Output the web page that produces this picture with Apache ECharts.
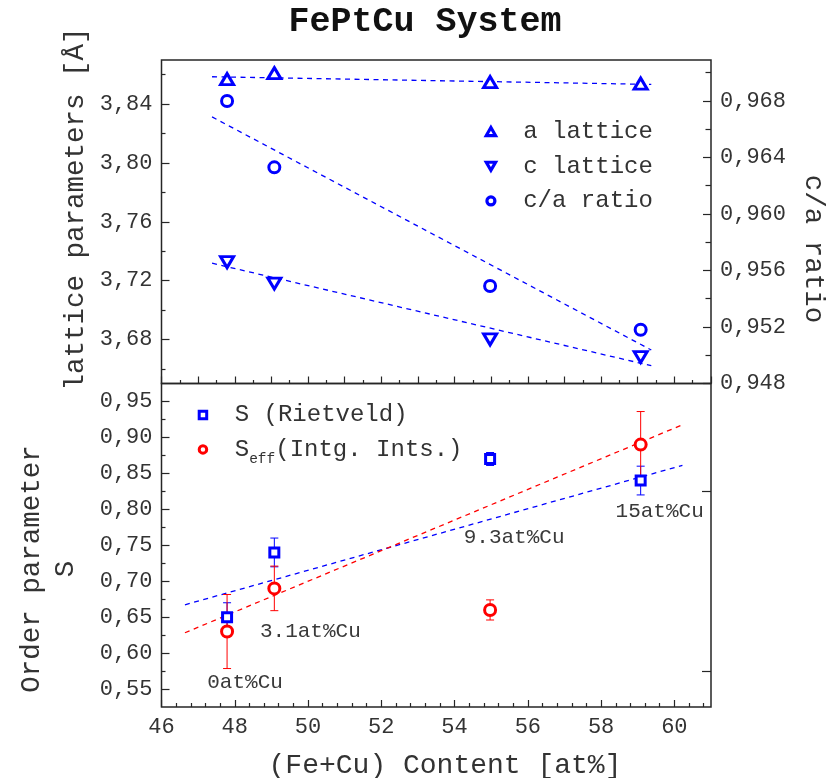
<!DOCTYPE html>
<html>
<head>
<meta charset="utf-8">
<script src="https://cdn.jsdelivr.net/npm/echarts@6/dist/echarts.min.js"></script>
<style>
  html, body { margin: 0; padding: 0; background: #fff; }
  #chart { width: 831px; height: 778px; }
</style>
</head>
<body>
<div id="chart"></div>
<script>
// Sample compositions: (Fe+Cu) content in at% and Cu content labels
const content = [47.79, 49.08, 54.97, 59.08];
const cuLabels = ['0at%Cu', '3.1at%Cu', '9.3at%Cu', '15at%Cu'];

// Lattice parameters [Å] and c/a ratio
const aLattice = [3.857, 3.861, 3.855, 3.854];
const cLattice = [3.7325, 3.718, 3.680, 3.668];
const caRatio = [0.968, 0.9633, 0.9549, 0.9518];

// Linear fit lines (start / end)
const fitXTop = [47.38, 59.37];
const aFit = [3.8586, 3.8534];
const cFit = [3.7318, 3.6621];
const caFit = [0.96687, 0.95037];

// Order parameter S with error bars
const sRietveld = [0.65, 0.74, 0.87, 0.84];
const sRietveldErr = [0.02, 0.02, 0.009, 0.02];
const sEff = [0.63, 0.69, 0.66, 0.89];
const sEffErr = [0.0515, 0.031, 0.014, 0.046];
const fitXBottom = [46.64, 60.22];
const sFit = [0.6672, 0.8611];
const sEffFit = [0.6283, 0.9176];

// Tick values
const xTicks = [46, 48, 50, 52, 54, 56, 58, 60];
const latticeTicks = [3.68, 3.72, 3.76, 3.80, 3.84];
const latticeMinor = [3.66, 3.70, 3.74, 3.78, 3.82, 3.86];
const ratioTicks = [0.948, 0.952, 0.956, 0.960, 0.964, 0.968];
const ratioMinor = [0.950, 0.954, 0.958, 0.962, 0.966, 0.970];
const orderTicks = [0.55, 0.60, 0.65, 0.70, 0.75, 0.80, 0.85, 0.90, 0.95];
const orderMinor = [0.575, 0.625, 0.675, 0.725, 0.775, 0.825, 0.875, 0.925];
const orderRightTicks = [0.575, 0.825];
const xMinorBottom = [];
for (let k = 1; k <= 37; k++) {
  const v = +(46 + k * 0.4).toFixed(2);
  if (Math.abs(v / 2 - Math.round(v / 2)) > 1e-6) xMinorBottom.push(v);
}

const MONO = '"Liberation Mono", "Courier New", monospace';
const INK = '#262626';
const LABEL = '#333';
const BLUE = '#0000ff';
const RED = '#ff0000';

const triUp = 'path://M5,0 L10,8.66 L0,8.66 Z';
const triDown = 'path://M0,0 L10,0 L5,8.66 Z';
const square = 'path://M0,0 L10,0 L10,10 L0,10 Z';

const comma = d => v => v.toFixed(d).replace('.', ',');

function yTickAxis(grid, pos, min, max, ticks, len, labelDigits) {
  return {
    type: 'value', gridIndex: grid, position: pos, min, max,
    axisLine: { show: false },
    splitLine: { show: false },
    axisTick: { show: true, inside: true, length: len, customValues: ticks,
      lineStyle: { color: INK, width: 1.2 } },
    axisLabel: labelDigits ? {
      show: true, customValues: ticks, formatter: comma(labelDigits),
      fontFamily: MONO, fontSize: 22, color: LABEL, margin: 9
    } : { show: false }
  };
}

const pair = (xs, ys) => xs.map((x, i) => [x, ys[i]]);

function fitLine(name, xs, ys, xi, yi, color) {
  return {
    type: 'line', name, xAxisIndex: xi, yAxisIndex: yi,
    data: pair(xs, ys), symbol: 'none', silent: true,
    lineStyle: { color, width: 1.3, type: [5, 4.5] }, z: 2
  };
}

function errorBars(values, errs, xi, yi, color) {
  return {
    type: 'custom', xAxisIndex: xi, yAxisIndex: yi, silent: true, z: 3,
    data: content.map((x, i) => [x, values[i] - errs[i], values[i] + errs[i]]),
    encode: { x: 0, y: [1, 2] },
    renderItem(params, api) {
      const lo = api.coord([api.value(0), api.value(1)]);
      const hi = api.coord([api.value(0), api.value(2)]);
      const w = 4;
      const style = { stroke: color, lineWidth: 1 };
      return {
        type: 'group', children: [
          { type: 'line', shape: { x1: lo[0], y1: lo[1], x2: hi[0], y2: hi[1] }, style },
          { type: 'line', shape: { x1: lo[0] - w, y1: lo[1], x2: lo[0] + w, y2: lo[1] }, style },
          { type: 'line', shape: { x1: hi[0] - w, y1: hi[1], x2: hi[0] + w, y2: hi[1] }, style }
        ]
      };
    }
  };
}

function markers(name, ys, symbol, size, color, xi, yi) {
  return {
    type: 'scatter', name, xAxisIndex: xi, yAxisIndex: yi,
    data: pair(content, ys), symbol, symbolSize: size, z: 4,
    itemStyle: { color: '#fff', borderColor: color, borderWidth: 3, opacity: 1 }
  };
}

// offsets of composition labels relative to the Rietveld points
const labelOffsets = [[18, 65], [36, 79], [24, 78], [19, 31]];

const sSeries = markers('S (Rietveld)', sRietveld, square, 9, BLUE, 1, 4);
sSeries.data = content.map((x, i) => ({
  value: [x, sRietveld[i]],
  label: { show: true, position: 'inside', offset: labelOffsets[i], formatter: cuLabels[i] }
}));
sSeries.label = { fontFamily: MONO, fontSize: 21, color: '#3a3a3a' };

const chart = echarts.init(document.getElementById('chart'), null, { renderer: 'canvas' });

chart.setOption({
  animation: false,
  backgroundColor: '#fff',
  grid: [
    { left: 161.5, top: 60, width: 549.5, height: 323.5, show: true,
      borderColor: INK, borderWidth: 1.5, outerBoundsMode: 'none' },
    { left: 161.5, top: 383.5, width: 549.5, height: 323.5, show: true,
      borderColor: INK, borderWidth: 1.5, outerBoundsMode: 'none' }
  ],
  xAxis: [
    { type: 'value', gridIndex: 0, position: 'bottom', min: 46, max: 61, interval: 1,
      axisLine: { show: false }, splitLine: { show: false }, axisLabel: { show: false },
      axisTick: { show: true, inside: true, length: 7, lineStyle: { color: INK, width: 1.2 } },
      minorTick: { show: true, splitNumber: 2, length: 3.5, lineStyle: { color: INK, width: 1.2 } } },
    { type: 'value', gridIndex: 1, position: 'bottom', min: 46, max: 61,
      axisLine: { show: false }, splitLine: { show: false },
      axisTick: { show: true, inside: true, length: 7, customValues: xTicks,
        lineStyle: { color: INK, width: 1.2 } },
      axisLabel: { show: true, customValues: xTicks, fontFamily: MONO, fontSize: 22,
        color: LABEL, margin: 9 } },
    { type: 'value', gridIndex: 1, position: 'bottom', min: 46, max: 61,
      axisLine: { show: false }, splitLine: { show: false }, axisLabel: { show: false },
      axisTick: { show: true, inside: true, length: 4, customValues: xMinorBottom,
        lineStyle: { color: INK, width: 1.2 } } }
  ],
  yAxis: [
    yTickAxis(0, 'left', 3.65, 3.87, latticeTicks, 8, 2),
    yTickAxis(0, 'left', 3.65, 3.87, latticeMinor, 4, 0),
    yTickAxis(0, 'right', 0.948, 0.9709, ratioTicks, 8, 3),
    yTickAxis(0, 'right', 0.948, 0.9709, ratioMinor, 5.5, 0),
    yTickAxis(1, 'left', 0.525, 0.975, orderTicks, 8, 2),
    yTickAxis(1, 'left', 0.525, 0.975, orderMinor, 4, 0),
    yTickAxis(1, 'right', 0.525, 0.975, orderRightTicks, 9, 0)
  ],
  legend: [
    { orient: 'vertical', left: 484.7, top: 114.2, padding: 0, itemGap: 0,
      itemWidth: 54.6, itemHeight: 8, selectedMode: false,
      itemStyle: { borderWidth: 3.2, borderColor: BLUE, color: '#fff' },
      textStyle: { fontFamily: MONO, fontSize: 24, color: LABEL, lineHeight: 34.7 },
      data: [
        { name: 'a lattice', icon: triUp },
        { name: 'c lattice', icon: triDown },
        { name: 'c/a ratio', icon: 'circle' }
      ] },
    { orient: 'vertical', left: 197.7, top: 397.8, padding: 0, itemGap: 0,
      itemWidth: 53.6, itemHeight: 7.5, selectedMode: false,
      itemStyle: { borderWidth: 3 },
      textStyle: { fontFamily: MONO, fontSize: 24, color: LABEL, lineHeight: 34.4,
        rich: {
          m: { fontFamily: MONO, fontSize: 24, color: LABEL, lineHeight: 34.4 },
          s: { fontFamily: MONO, fontSize: 14.5, color: LABEL, lineHeight: 34.4, verticalAlign: 'bottom' }
        } },
      formatter: name => name === 'Seff(Intg. Ints.)' ? '{m|S}{s|eff}{m|(Intg. Ints.)}' : name,
      data: [
        { name: 'S (Rietveld)', icon: square },
        { name: 'Seff(Intg. Ints.)', icon: 'circle' }
      ] }
  ],
  graphic: [
    { type: 'text', x: 425, y: 22, style: { text: 'FePtCu System', fill: '#111',
        font: 'bold 35px ' + MONO, align: 'center', verticalAlign: 'middle' } },
    { type: 'text', x: 76, y: 209, rotation: Math.PI / 2, style: { text: 'lattice parameters [Å]',
        fill: LABEL, font: '27.5px ' + MONO, align: 'center', verticalAlign: 'middle' } },
    { type: 'text', x: 813, y: 249, rotation: -Math.PI / 2, style: { text: 'c/a ratio',
        fill: LABEL, font: '27.5px ' + MONO, align: 'center', verticalAlign: 'middle' } },
    { type: 'text', x: 32, y: 569, rotation: Math.PI / 2, style: { text: 'Order parameter',
        fill: LABEL, font: '27.5px ' + MONO, align: 'center', verticalAlign: 'middle' } },
    { type: 'text', x: 66, y: 569, rotation: Math.PI / 2, style: { text: 'S',
        fill: LABEL, font: '27.5px ' + MONO, align: 'center', verticalAlign: 'middle' } },
    { type: 'text', x: 445, y: 766, style: { text: '(Fe+Cu) Content [at%]',
        fill: LABEL, font: '28px ' + MONO, align: 'center', verticalAlign: 'middle' } }
  ],
  series: [
    fitLine('a fit', fitXTop, aFit, 0, 0, BLUE),
    fitLine('c fit', fitXTop, cFit, 0, 0, BLUE),
    fitLine('c/a fit', fitXTop, caFit, 0, 2, BLUE),
    markers('a lattice', aLattice, triUp, [13, 11], BLUE, 0, 0),
    markers('c lattice', cLattice, triDown, [13, 11], BLUE, 0, 0),
    markers('c/a ratio', caRatio, 'circle', 11, BLUE, 0, 2),

    fitLine('S fit', fitXBottom, sFit, 1, 4, BLUE),
    fitLine('Seff fit', fitXBottom, sEffFit, 1, 4, RED),
    errorBars(sRietveld, sRietveldErr, 1, 4, BLUE),
    errorBars(sEff, sEffErr, 1, 4, RED),
    sSeries,
    markers('Seff(Intg. Ints.)', sEff, 'circle', 11, RED, 1, 4)
  ]
});
</script>
</body>
</html>
